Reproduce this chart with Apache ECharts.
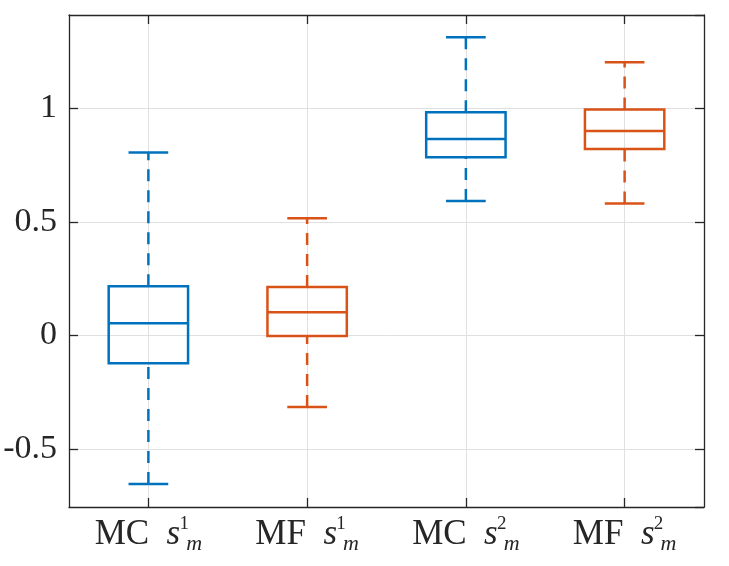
<!DOCTYPE html>
<html>
<head>
<meta charset="utf-8">
<script src="https://cdn.jsdelivr.net/npm/echarts@6/dist/echarts.min.js"></script>
<style>html,body{margin:0;padding:0;background:#fff;}#c{width:729px;height:566px;}</style>
</head>
<body>
<div id="c"></div>
<script>
// ---- data ----
const categories = ['MC s1m', 'MF s1m', 'MC s2m', 'MF s2m'];
const labelPrefix = ['MC', 'MF', 'MC', 'MF'];
const labelSup = ['1', '1', '2', '2'];
const mins    = [-0.654, -0.315, 0.592, 0.580];
const q1s     = [-0.122, -0.002, 0.784, 0.820];
const medians = [0.054, 0.102, 0.864, 0.900];
const q3s     = [0.216, 0.213, 0.982, 0.994];
const maxs    = [0.805, 0.516, 1.312, 1.202];
const yMin = -0.755, yMax = 1.41;

const colors = ['#0072BD', '#D95319', '#0072BD', '#D95319'];
const boxData = categories.map((c, i) => [i, mins[i], q1s[i], medians[i], q3s[i], maxs[i]]);

const chart = echarts.init(document.getElementById('c'), null, {renderer: 'canvas'});
const axisColor = '#262626';
const gridColor = '#e0e0e0';
const font = 'Liberation Serif';

function renderItem(params, api) {
  const i = api.value(0);
  const band = api.size([1, 0])[0];
  const x = api.coord([i, api.value(3)])[0];
  const y = v => api.coord([i, v])[1];
  const yMn = y(api.value(1)), yQ1 = y(api.value(2)), yMd = y(api.value(3)), yQ3 = y(api.value(4)), yMx = y(api.value(5));
  const hw = band * 0.25, cw = band * 0.125;
  const col = colors[params.dataIndex];
  const solid = {stroke: col, lineWidth: 2.5, fill: null};
  const dashed = {stroke: col, lineWidth: 2.5, fill: null, lineDash: [12, 9]};
  return {
    type: 'group',
    children: [
      {type: 'line', shape: {x1: x, y1: yMn, x2: x, y2: yQ1}, style: dashed},
      {type: 'line', shape: {x1: x, y1: yQ3, x2: x, y2: yMx}, style: dashed},
      {type: 'line', shape: {x1: x - cw, y1: yMn, x2: x + cw, y2: yMn}, style: solid},
      {type: 'line', shape: {x1: x - cw, y1: yMx, x2: x + cw, y2: yMx}, style: solid},
      {type: 'rect', shape: {x: x - hw, y: yQ3, width: 2 * hw, height: yQ1 - yQ3}, style: solid},
      {type: 'line', shape: {x1: x - hw, y1: yMd, x2: x + hw, y2: yMd}, style: solid}
    ]
  };
}

const tickStyle = {show: true, inside: true, length: 9, lineStyle: {color: axisColor, width: 1.3}};
const lineStyleAxis = {show: true, onZero: false, lineStyle: {color: axisColor, width: 1.3}};

const option = {
  animation: false,
  backgroundColor: '#fff',
  grid: {left: 69, right: 25, top: 15, bottom: 59, containLabel: false},
  xAxis: [{
    type: 'category',
    data: categories,
    boundaryGap: true,
    position: 'bottom',
    axisLine: lineStyleAxis,
    axisTick: Object.assign({alignWithLabel: true}, tickStyle),
    splitLine: {show: true, alignWithLabel: true, lineStyle: {color: gridColor, width: 1}},
    axisLabel: {
      margin: 8,
      interval: 0,
      formatter: (v, idx) => '{n|' + labelPrefix[idx] + '  }{s|s}{sup|' + labelSup[idx] + '}{sub|m}',
      rich: {
        n: {fontFamily: font, fontSize: 35, color: axisColor, lineHeight: 40},
        s: {fontFamily: font, fontSize: 35, fontStyle: 'italic', color: axisColor, lineHeight: 40},
        sup: {fontFamily: font, fontSize: 19, color: axisColor, lineHeight: 34, verticalAlign: 'top', width: 0, padding: [0, 0, 0, 4]},
        sub: {fontFamily: font, fontSize: 22, fontStyle: 'italic', color: axisColor, lineHeight: 12, verticalAlign: 'bottom', padding: [0, 0, 0, 2]}
      }
    }
  }, {
    type: 'category',
    data: categories,
    boundaryGap: true,
    position: 'top',
    axisLine: lineStyleAxis,
    axisTick: Object.assign({alignWithLabel: true}, tickStyle),
    axisLabel: {show: false},
    splitLine: {show: false}
  }],
  yAxis: [{
    type: 'value',
    min: yMin, max: yMax,
    position: 'left',
    axisLine: lineStyleAxis,
    axisTick: tickStyle,
    splitLine: {show: true, lineStyle: {color: gridColor, width: 1}},
    axisLabel: {showMinLabel: false, showMaxLabel: false, margin: 12, fontFamily: font, fontSize: 34, color: axisColor}
  }, {
    type: 'value',
    min: yMin, max: yMax,
    position: 'right',
    axisLine: lineStyleAxis,
    axisTick: tickStyle,
    axisLabel: {show: false},
    splitLine: {show: false}
  }],
  series: [{
    type: 'custom',
    renderItem: renderItem,
    data: boxData,
    encode: {x: 0, y: [1, 2, 3, 4, 5]},
    xAxisIndex: 0,
    yAxisIndex: 0,
    clip: false
  }]
};
chart.setOption(option);
</script>
</body>
</html>
